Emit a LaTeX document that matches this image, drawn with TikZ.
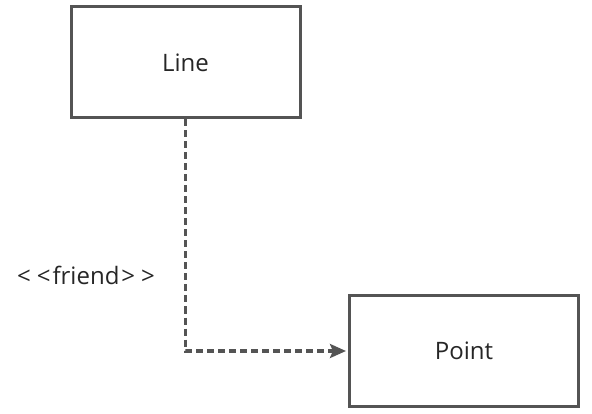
\documentclass[tikz,border=0pt]{standalone}
\usepackage{fontspec}
\setmainfont{Open Sans}
\usetikzlibrary{arrows.meta}

\tikzset{
  cls/.style={draw=black!67,line width=3pt,minimum width=229pt,minimum height=111pt,
    font=\fontsize{24}{28}\selectfont,text=black!85},
  dep/.style={draw=black!67,line width=3.5pt,dash pattern=on 7pt off 4pt,
    -{Stealth[length=16pt,width=14pt,inset=3pt]},shorten >=2pt},
  stereo/.style={font=\fontsize{24}{28}\selectfont,text=black!85}
}

\begin{document}
\begin{tikzpicture}[x=1pt,y=1pt]
                  \useasboundingbox (0,0) rectangle (592,-414);
                  \node[cls] (Line) at (185.5,-62.5) {Line};
                  \node[cls] (Point) at (464,-351) {Point};
                  \node[stereo] (friend) at (86,-275) {\textless\kern6pt\textless\kern2pt friend\kern2pt\textgreater\kern6pt\textgreater};
                  \draw[dep] (Line.south) |- (Point.west);
              \end{tikzpicture}
\end{document}
